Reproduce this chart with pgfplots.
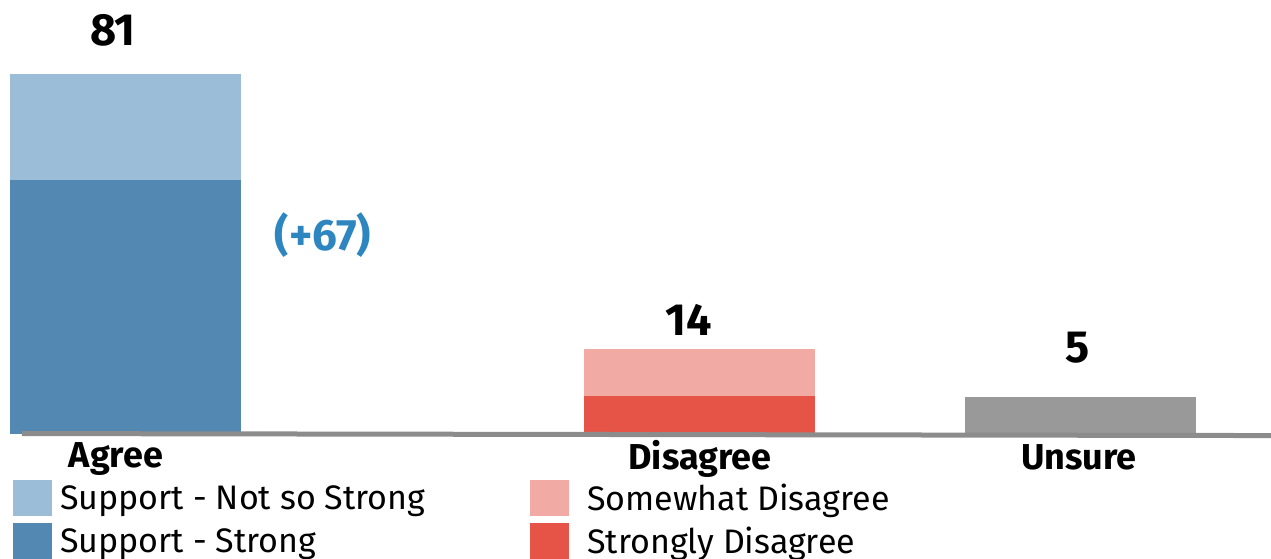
\documentclass[border=0pt]{standalone}
\usepackage{fontspec}
\setmainfont{Fira Sans}
\usepackage{pgfplots}
\pgfplotsset{compat=1.18}
\definecolor{lblue}{RGB}{155,189,215}
\definecolor{dblue}{RGB}{82,136,178}
\definecolor{lred}{RGB}{242,170,164}
\definecolor{dred}{RGB}{230,84,71}
\definecolor{ggray}{RGB}{153,153,153}
\definecolor{lgray}{RGB}{140,140,140}
\definecolor{tblue}{RGB}{46,134,193}
\pgfplotsset{swatch/.style={legend image code/.code={\fill[##1] (0pt,-18pt) rectangle (39pt,18pt);}}}
\begin{document}
\begin{tikzpicture}
\begin{axis}[
  at={(0pt,0pt)}, anchor=south west,
  scale only axis, width=1271pt, height=558pt,
  xmin=0, xmax=1271, ymin=-27.9, ymax=97.65,
  hide axis, clip=false,
  ybar stacked, bar width=231,
  legend columns=2, legend cell align=left,
  legend style={at={(rel axis cs:13/1271,1-480/558)}, anchor=north west,
    draw=none, fill=none, inner sep=0pt, row sep=7pt,
    font=\fontsize{34}{38}\selectfont,
    nodes={inner ysep=0pt, inner xsep=8pt},
    /tikz/every even column/.append style={column sep=97pt}},
]
\draw[lgray, line width=5pt] (axis cs:22,0.1) -- (axis cs:1271,-0.35);
\addplot[fill=dblue, draw=none, forget plot] coordinates {(125.5,57.2) (699.5,0) (1080.5,0)};
\addplot[fill=lblue, draw=none, forget plot] coordinates {(125.5,23.8) (699.5,0) (1080.5,0)};
\addplot[fill=dred, draw=none, forget plot] coordinates {(125.5,0) (699.5,8.5) (1080.5,0)};
\addplot[fill=lred, draw=none, forget plot] coordinates {(125.5,0) (699.5,10.6) (1080.5,0)};
\addplot[fill=ggray, draw=none, forget plot] coordinates {(125.5,0) (699.5,0) (1080.5,8.3)};
\addlegendimage{fill=lblue, draw=none, swatch}
\addlegendentry{Support - Not so Strong}
\addlegendimage{fill=lred, draw=none, swatch}
\addlegendentry{\hspace{10pt}Somewhat Disagree}
\addlegendimage{fill=dblue, draw=none, swatch}
\addlegendentry{Support - Strong}
\addlegendimage{fill=dred, draw=none, swatch}
\addlegendentry{\hspace{10pt}Strongly Disagree}
\node[anchor=base, font=\bfseries\fontsize{45}{45}\selectfont] at (rel axis cs:113/1271,1-46/558) {81};
\node[anchor=base, text=white, font=\bfseries\fontsize{45}{45}\selectfont] at (rel axis cs:111/1271,1-264/558) {53};
\node[anchor=base, text=tblue, font=\bfseries\fontsize{44}{44}\selectfont] at (rel axis cs:323/1271,1-251/558) {(+67)};
\node[anchor=base, font=\bfseries\fontsize{45}{45}\selectfont] at (rel axis cs:688.5/1271,1-336/558) {14};
\node[anchor=base, font=\bfseries\fontsize{45}{45}\selectfont] at (rel axis cs:1078/1271,1-363/558) {5};
\node[anchor=base, font=\bfseries\fontsize{36}{36}\selectfont] at (rel axis cs:116/1271,1-467/558) {Agree};
\node[anchor=base, font=\bfseries\fontsize{36}{36}\selectfont] at (rel axis cs:700/1271,1-470/558) {Disagree};
\node[anchor=base, font=\bfseries\fontsize{36}{36}\selectfont] at (rel axis cs:1079/1271,1-470/558) {Unsure};
\end{axis}
\pgfresetboundingbox
\useasboundingbox (0pt,0pt) rectangle (1271pt,558pt);
\end{tikzpicture}
\end{document}
